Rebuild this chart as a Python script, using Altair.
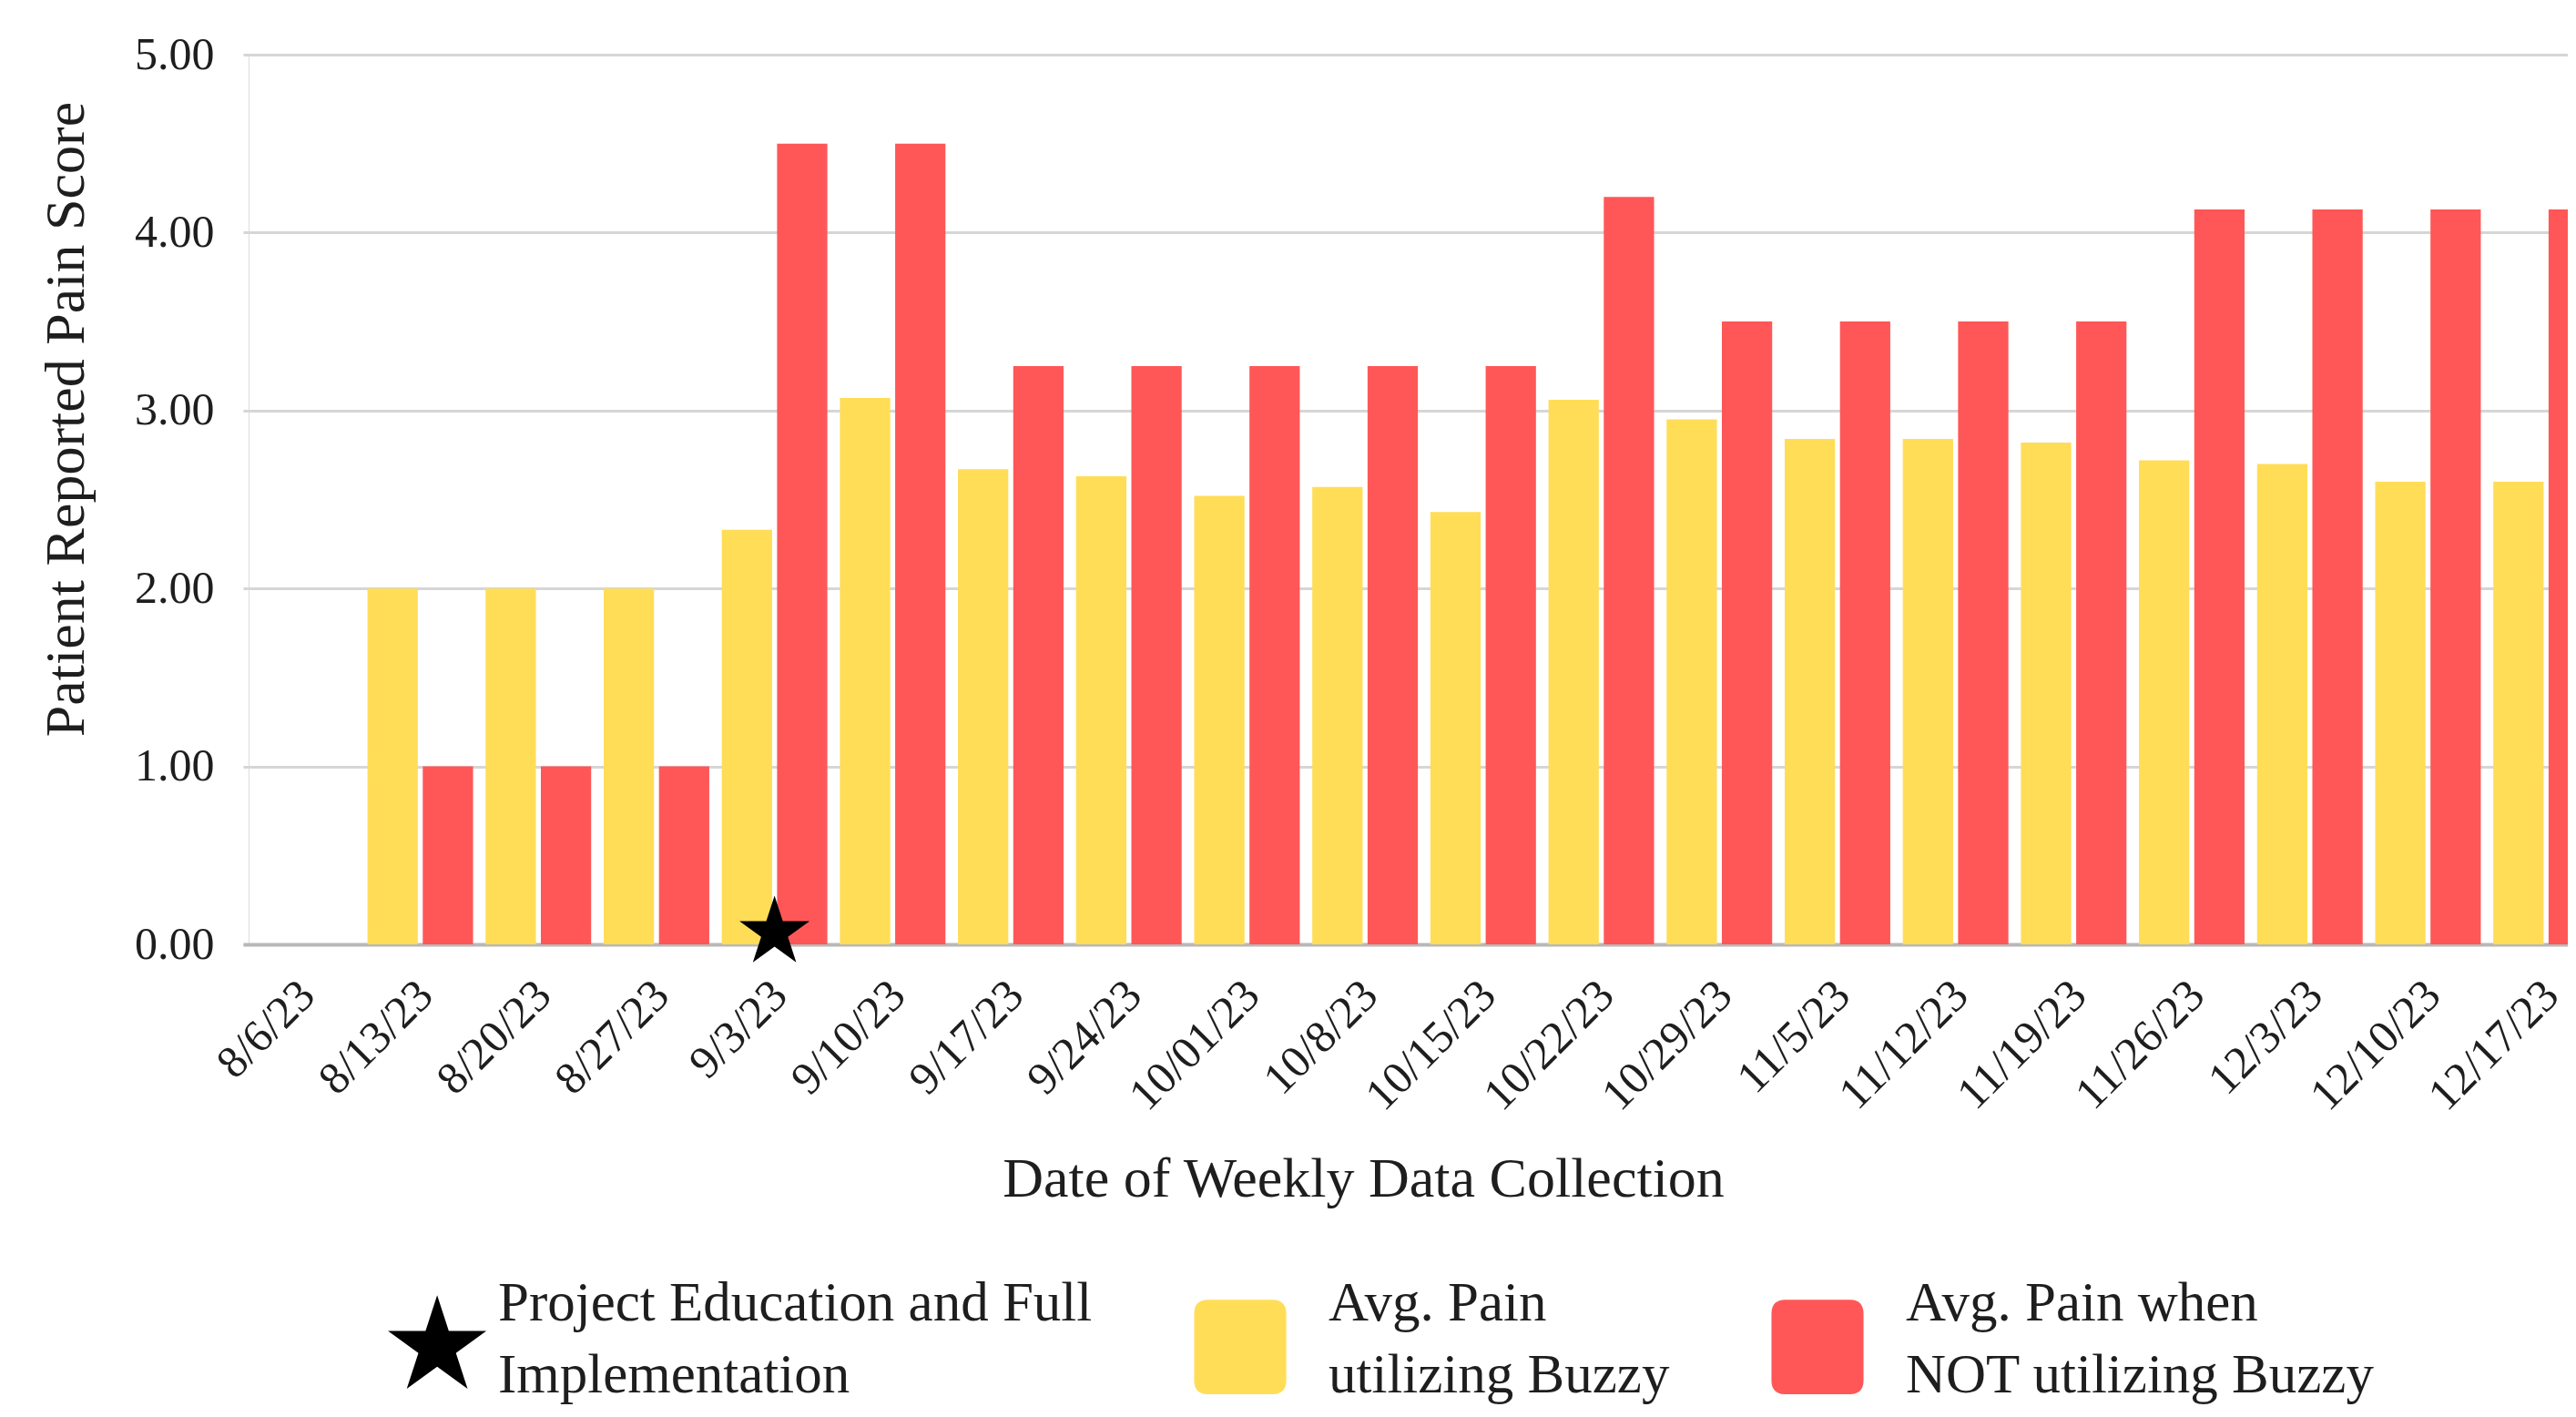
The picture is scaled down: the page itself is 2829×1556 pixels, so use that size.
import altair as alt
import pandas as pd

dates = ["8/6/23", "8/13/23", "8/20/23", "8/27/23", "9/3/23", "9/10/23", "9/17/23",
         "9/24/23", "10/01/23", "10/8/23", "10/15/23", "10/22/23", "10/29/23", "11/5/23",
         "11/12/23", "11/19/23", "11/26/23", "12/3/23", "12/10/23", "12/17/23"]
buzzy = [None, 2.0, 2.0, 2.0, 2.33, 3.07, 2.67, 2.63, 2.52, 2.57, 2.43, 3.06, 2.95, 2.84,
         2.84, 2.82, 2.72, 2.70, 2.60, 2.60]
no_buzzy = [None, 1.0, 1.0, 1.0, 4.5, 4.5, 3.25, 3.25, 3.25, 3.25, 3.25, 4.2, 3.5, 3.5,
            3.5, 3.5, 4.13, 4.13, 4.13, 4.13]
series_names = ["Project Education and Full|Implementation",
                "Avg. Pain|utilizing Buzzy",
                "Avg. Pain when|NOT utilizing Buzzy"]
series_colors = ["#000000", "#FFDD57", "#FF5757"]
marker_dates = ["9/3/23"]
marker_values = [0.0]
y_ticks = [0, 1, 2, 3, 4, 5]

STAR = ("M0.53,-0.17 L0.7545,0.521 L1.481,0.521 L0.893,0.948 L1.118,1.639 L0.53,1.212 "
        "L-0.058,1.639 L0.167,0.948 L-0.421,0.521 L0.3055,0.521 Z")
RRECT = ("M-0.62,-0.085 L0.62,-0.085 Q0.89,-0.085 0.89,0.185 L0.89,1.475 Q0.89,1.745 0.62,1.745 "
         "L-0.62,1.745 Q-0.89,1.745 -0.89,1.475 L-0.89,0.185 Q-0.89,-0.085 -0.62,-0.085 Z")

rows = []
for d, a, b in zip(dates, buzzy, no_buzzy):
    rows.append({"date": d, "series": series_names[1], "score": a})
    rows.append({"date": d, "series": series_names[2], "score": b})
bars_df = pd.DataFrame(rows)
star_df = pd.DataFrame({"date": marker_dates, "series": [series_names[0]] * len(marker_dates),
                        "score": marker_values})

FONT = "Liberation Serif"
TXT = "#1e1e1e"

x_scale = alt.Scale(domain=dates, range=[-6, 2588], paddingInner=0.106, paddingOuter=0.053)
y_scale = alt.Scale(domain=[0, 5], nice=False)
color_scale = alt.Scale(domain=series_names, range=series_colors)
shape_scale = alt.Scale(domain=series_names, range=[STAR, RRECT, RRECT])

legend = alt.Legend(title=None, orient="none", legendX=120, legendY=1315,
                    direction="horizontal", symbolSize=12905, labelFontSize=61,
                    labelFont=FONT, labelColor=TXT, labelLimit=0, labelOffset=40,
                    columnPadding=105, labelExpr="split(datum.label, '|')",
                    symbolStrokeWidth=0, padding=0, symbolOpacity=1)

x_axis = alt.Axis(title="Date of Weekly Data Collection", labelAngle=-45, labelAlign="right",
                  labelBaseline="middle", labelFontSize=50, labelFont=FONT, labelColor=TXT,
                  labelPadding=48, labelOffset=6, ticks=False, domain=True, domainColor="#b8b8b8",
                  domainWidth=4, grid=False, titleFont=FONT, titleFontSize=62,
                  titleFontWeight="normal", titleColor=TXT, titleX=1224, titleY=276,
                  titleAlign="center", titleBaseline="alphabetic", labelOverlap=False)
y_axis = alt.Axis(title="Patient Reported Pain Score", values=y_ticks, format=".2f",
                  labelFontSize=50, labelFont=FONT, labelColor=TXT, labelPadding=38,
                  ticks=False, domain=False, grid=True, gridColor="#d6d6d6", gridWidth=3,
                  titleFont=FONT, titleFontSize=62, titleFontWeight="normal", titleColor=TXT,
                  titleX=-201, titleY=400, titleAlign="center", titleBaseline="middle",
                  titleAngle=-90)

bars = alt.Chart(bars_df).mark_bar(clip=True).encode(
    x=alt.X("date:N", scale=x_scale, axis=x_axis, sort=dates),
    xOffset=alt.XOffset("series:N", scale=alt.Scale(domain=series_names[1:], paddingInner=0.09)),
    y=alt.Y("score:Q", scale=y_scale, axis=y_axis),
    color=alt.Color("series:N", scale=color_scale, legend=legend),
)

star = alt.Chart(star_df).mark_point(filled=True, size=6561, opacity=1, strokeWidth=0,
                                     xOffset=-21.5, yOffset=-46.6).encode(
    x=alt.X("date:N", scale=x_scale, sort=dates),
    y=alt.Y("score:Q", scale=y_scale),
    color=alt.Color("series:N", scale=color_scale, legend=legend),
    shape=alt.Shape("series:N", scale=shape_scale, legend=legend),
)

chart = alt.layer(bars, star).properties(
    width=2547, height=977,
    autosize=alt.AutoSizeParams(type="none"),
    padding={"left": 265, "top": 52, "right": 0, "bottom": 506},
).configure_view(stroke=None).configure(style={"guide-label": {"lineHeight": 79}})

chart.save("out.html", embed_options={"renderer": "svg", "actions": False})
